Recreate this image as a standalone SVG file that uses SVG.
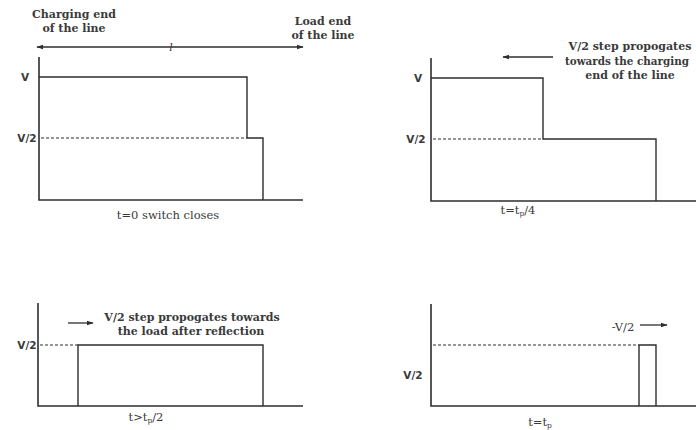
<svg xmlns="http://www.w3.org/2000/svg" width="696" height="430" viewBox="0 0 696 430">
<style>
.ax{stroke:#2e2e2e;stroke-width:1.6;fill:none}
.ln{stroke:#2e2e2e;stroke-width:1.4;fill:none}
.ds{stroke:#2e2e2e;stroke-width:1.2;stroke-dasharray:3,2;fill:none}
.ar{stroke:#2e2e2e;stroke-width:1.3;fill:none}
.t{font-family:"DejaVu Serif",serif;font-size:11px;font-weight:bold;fill:#3a3a3a;text-anchor:middle}
.c{font-family:"DejaVu Serif",serif;font-size:11.5px;fill:#3a3a3a;text-anchor:middle}
.lb{font-family:"DejaVu Sans",sans-serif;font-size:10.5px;font-weight:bold;fill:#3a3a3a;text-anchor:middle;dominant-baseline:central}
</style>
<defs>
<marker id="ah" viewBox="0 0 10 10" refX="9" refY="5" markerWidth="7" markerHeight="7" orient="auto-start-reverse" markerUnits="userSpaceOnUse">
<path d="M0,1.5 L10,5 L0,8.5 Z" fill="#2e2e2e"/>
</marker>
</defs>
<rect width="696" height="430" fill="#ffffff"/>

<g id="panel1">
<text class="t" x="74" y="18">Charging end</text>
<text class="t" x="74" y="32">of the line</text>
<text class="t" x="323" y="25">Load end</text>
<text class="t" x="323" y="39">of the line</text>
<line class="ar" x1="37" y1="47" x2="303" y2="47" marker-start="url(#ah)" marker-end="url(#ah)"/>
<text x="171" y="51" font-family="DejaVu Serif, serif" font-style="italic" font-size="11" fill="#3a3a3a" text-anchor="middle">l</text>
<path class="ax" d="M39,57 V200 H303"/>
<path class="ln" d="M39,77 H247 V138 H263 V200"/>
<line class="ds" x1="41" y1="138" x2="247" y2="138"/>
<text class="lb" x="25" y="77">V</text>
<text class="lb" x="27" y="138">V/2</text>
<text class="c" x="168" y="219">t=0 switch closes</text>
</g>

<g id="panel2">
<line class="ar" x1="553" y1="57" x2="503" y2="57" marker-end="url(#ah)"/>
<text class="t" x="630" y="50">V/2 step propogates</text>
<text class="t" x="565" y="65" style="text-anchor:start" textLength="124" lengthAdjust="spacingAndGlyphs">towards the charging</text>
<text class="t" x="630" y="79">end of the line</text>
<path class="ax" d="M431,58 V201 H696"/>
<path class="ln" d="M431,78 H543 V139 H656 V201"/>
<line class="ds" x1="433" y1="139" x2="543" y2="139"/>
<text class="lb" x="418" y="78">V</text>
<text class="lb" x="416" y="139">V/2</text>
<text class="c" x="518" y="214">t=t<tspan font-size="7.5" dy="2">p</tspan><tspan dy="-2">/4</tspan></text>
</g>

<g id="panel3">
<line class="ar" x1="68" y1="323" x2="93" y2="323" marker-end="url(#ah)"/>
<text class="t" x="192" y="321">V/2 step propogates towards</text>
<text class="t" x="191" y="335">the load after reflection</text>
<path class="ax" d="M38,303 V406 H303"/>
<path class="ln" d="M78,406 V345 H263 V406"/>
<line class="ds" x1="40" y1="345" x2="78" y2="345"/>
<text class="lb" x="27" y="345">V/2</text>
<text class="c" x="146" y="421">t&gt;t<tspan font-size="7.5" dy="2">p</tspan><tspan dy="-2">/2</tspan></text>
</g>

<g id="panel4">
<text class="c" x="623" y="331">-V/2</text>
<line class="ar" x1="640" y1="325" x2="667" y2="325" marker-end="url(#ah)"/>
<path class="ax" d="M431,304 V406 H696"/>
<path class="ln" d="M639,406 V345 H656 V406"/>
<line class="ds" x1="433" y1="345" x2="639" y2="345"/>
<text class="lb" x="413" y="375">V/2</text>
<text class="c" x="540" y="426">t=t<tspan font-size="7.5" dy="2">p</tspan></text>
</g>
</svg>
